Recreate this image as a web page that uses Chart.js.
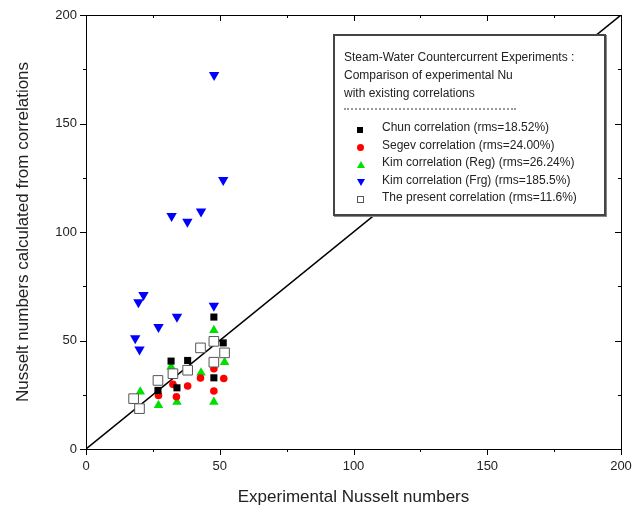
<!DOCTYPE html>
<html>
<head>
<meta charset="utf-8">
<script src="https://cdn.jsdelivr.net/npm/chart.js@4"></script>
<style>
  body { margin: 0; background: #fff; }
  #wrap { position: relative; width: 638px; height: 517px; }
  #key {
    position: absolute; left: 333px; top: 34px; width: 273px; height: 182px;
    box-sizing: border-box; border: 2px solid #444; background: #fff;
    font-family: "Liberation Sans", Arial, sans-serif; font-size: 12px; color: #222;
    box-shadow: 1px 1px 0 #888;
  }
  #key .head { position: absolute; left: 9px; top: 12px; line-height: 18px; }
  #key .sep { position: absolute; left: 9px; top: 72px; width: 172px; border-top: 2px dotted #999; }
  #key .row { position: absolute; left: 47px; height: 17px; line-height: 17px; white-space: nowrap; }
  #key .mk { position: absolute; left: 22px; }
</style>
</head>
<body>
<div id="wrap">
  <canvas id="myChart" width="638" height="517"></canvas>
  <div id="key">
    <div class="head">Steam-Water Countercurrent Experiments :<br>Comparison of experimental Nu<br>with existing correlations</div>
    <div class="sep"></div>
  </div>
</div>
<script>
// experimental Nu (x) vs Nu from correlations (y)
const chunExp = [47.8, 51.3, 31.8, 38.0, 47.8, 26.9, 34.0];
const chunCalc = [60.8, 48.9, 40.5, 40.8, 32.8, 27.0, 28.2];

const segevExp = [47.8, 51.5, 47.8, 38.0, 33.8, 32.5, 27.1, 42.8];
const segevCalc = [37.0, 32.5, 26.7, 29.0, 24.1, 29.8, 24.7, 32.7];

const kimRegExp = [47.8, 51.8, 43.0, 47.8, 34.0, 27.1, 20.3, 19.6, 31.8];
const kimRegCalc = [54.7, 40.0, 35.1, 21.7, 21.7, 20.2, 26.4, 17.6, 37.9];

const kimFrgExp = [47.9, 51.3, 32.0, 37.9, 43.0, 21.5, 19.6, 34.0, 27.1, 18.4, 20.0, 47.8];
const kimFrgCalc = [172.4, 124.0, 107.4, 104.7, 109.4, 71.0, 67.6, 61.0, 56.2, 51.0, 45.8, 66.0];

const presentExp = [17.8, 20.0, 26.9, 32.5, 38.0, 42.8, 47.8, 51.8, 47.8];
const presentCalc = [23.2, 18.6, 31.6, 34.7, 36.3, 46.6, 49.6, 44.3, 40.0];

const parityLine = [0, 200];

const seriesLabels = [
  "Chun correlation (rms=18.52%)",
  "Segev correlation (rms=24.00%)",
  "Kim correlation (Reg) (rms=26.24%)",
  "Kim correlation (Frg) (rms=185.5%)",
  "The present correlation (rms=11.6%)",
];

function pts(xs, ys) {
  return xs.map((x, i) => ({ x: x, y: ys[i] }));
}

// frame on top/right + tick marks (outward left/bottom, inward top/right)
const frameTicks = {
  id: "frameTicks",
  afterDraw(chart) {
    const { ctx, chartArea: a, scales } = chart;
    ctx.save();
    ctx.strokeStyle = "#000";
    ctx.lineWidth = 1;
    ctx.strokeRect(a.left + 0.5, a.top + 0.5, a.right - a.left, a.bottom - a.top);
    ctx.beginPath();
    for (let v = 0; v <= 200; v += 25) {
      const len = v % 50 === 0 ? 6 : 3;
      const px = Math.round(scales.x.getPixelForValue(v)) + 0.5;
      const py = Math.round(scales.y.getPixelForValue(v)) + 0.5;
      ctx.moveTo(px, a.bottom); ctx.lineTo(px, a.bottom + len);
      ctx.moveTo(px, a.top); ctx.lineTo(px, a.top + len);
      ctx.moveTo(a.left, py); ctx.lineTo(a.left - len, py);
      ctx.moveTo(a.right, py); ctx.lineTo(a.right - len, py);
    }
    ctx.stroke();
    ctx.restore();
  },
};

let myChart = document.getElementById("myChart").getContext("2d");

let nuChart = new Chart(myChart, {
  type: "scatter",
  data: {
    datasets: [
      {
        label: seriesLabels[4],
        data: pts(presentExp, presentCalc),
        pointStyle: "rect",
        pointRadius: 6.8,
        backgroundColor: "#fff",
        borderColor: "#555",
        borderWidth: 1,
      },
      {
        label: seriesLabels[0],
        data: pts(chunExp, chunCalc),
        pointStyle: "rect",
        pointRadius: 5,
        backgroundColor: "#000",
        borderColor: "#000",
        borderWidth: 0,
      },
      {
        label: seriesLabels[1],
        data: pts(segevExp, segevCalc),
        pointStyle: "circle",
        pointRadius: 3.8,
        backgroundColor: "#ff0000",
        borderColor: "#ff0000",
        borderWidth: 0,
      },
      {
        label: seriesLabels[2],
        data: pts(kimRegExp, kimRegCalc),
        pointStyle: "triangle",
        pointRadius: 5.5,
        backgroundColor: "#00e000",
        borderColor: "#00e000",
        borderWidth: 0,
      },
      {
        label: seriesLabels[3],
        data: pts(kimFrgExp, kimFrgCalc),
        pointStyle: "triangle",
        rotation: 180,
        pointRadius: 6,
        backgroundColor: "#0000ff",
        borderColor: "#0000ff",
        borderWidth: 0,
      },
      {
        type: "line",
        label: "y = x",
        data: pts(parityLine, parityLine),
        borderColor: "#000",
        borderWidth: 1.5,
        pointRadius: 0,
        fill: false,
      },
    ],
  },
  options: {
    responsive: false,
    animation: false,
    layout: { padding: { left: 0, right: 17, top: 15, bottom: 0 } },
    scales: {
      x: {
        type: "linear",
        min: 0,
        max: 200,
        ticks: {
          stepSize: 50,
          padding: 10,
          color: "#222",
          font: { family: "Liberation Sans", size: 13 },
        },
        grid: { display: true, drawOnChartArea: false, drawTicks: false },
        border: { color: "#000", width: 1 },
        title: {
          display: true,
          text: "Experimental Nusselt numbers",
          color: "#222",
          font: { family: "Liberation Sans", size: 17 },
          padding: { top: 10, bottom: 9 },
        },
        afterFit(scale) {
          scale.height = 68;
          scale.paddingLeft = 0;
          scale.paddingRight = 0;
        },
      },
      y: {
        min: 0,
        max: 200,
        ticks: {
          stepSize: 50,
          padding: 9,
          color: "#222",
          font: { family: "Liberation Sans", size: 13 },
        },
        grid: { display: true, drawOnChartArea: false, drawTicks: false },
        border: { color: "#000", width: 1 },
        title: {
          display: true,
          text: "Nusselt numbers calculated from correlations",
          color: "#222",
          font: { family: "Liberation Sans", size: 17 },
          padding: { top: 13, bottom: 13 },
        },
        afterFit(scale) {
          scale.width = 86;
          scale.paddingTop = 0;
          scale.paddingBottom = 0;
        },
      },
    },
    plugins: {
      legend: { display: false },
      tooltip: { enabled: false },
    },
  },
  plugins: [frameTicks],
});

// key box rows, built from the series labels
const key = document.getElementById("key");
const markers = [
  '<span style="display:inline-block;width:6px;height:6px;background:#000"></span>',
  '<span style="display:inline-block;width:7px;height:7px;border-radius:50%;background:#f00"></span>',
  '<span style="display:inline-block;width:0;height:0;border-left:4px solid transparent;border-right:4px solid transparent;border-bottom:7px solid #00e000"></span>',
  '<span style="display:inline-block;width:0;height:0;border-left:4px solid transparent;border-right:4px solid transparent;border-top:7px solid #00f"></span>',
  '<span style="display:inline-block;width:5px;height:5px;border:1px solid #555;background:#fff"></span>',
];
seriesLabels.forEach((text, i) => {
  const top = 83 + i * 17.5;
  const mk = document.createElement("div");
  mk.className = "mk";
  mk.style.top = (top + 3) + "px";
  mk.innerHTML = markers[i];
  key.appendChild(mk);
  const row = document.createElement("div");
  row.className = "row";
  row.style.top = top + "px";
  row.textContent = text;
  key.appendChild(row);
});
</script>
</body>
</html>
